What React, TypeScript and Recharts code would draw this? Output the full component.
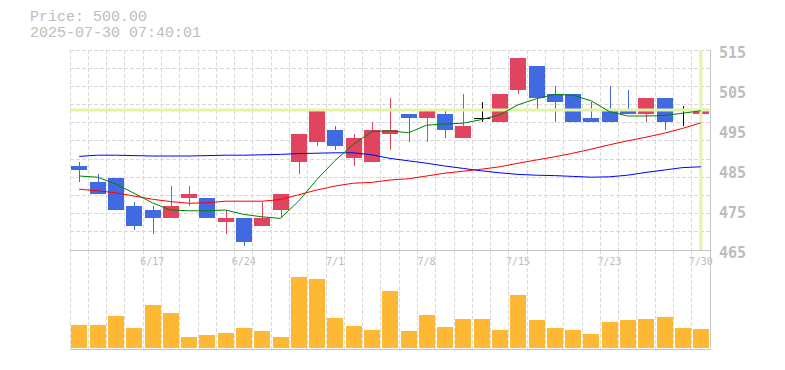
import React from 'react';
import {
  ComposedChart,
  Bar,
  Line,
  XAxis,
  YAxis,
  CartesianGrid,
  ReferenceLine,
} from 'recharts';

// trading days 2025-06-11 .. 2025-07-30
const dates = [
  '6/11', '6/12', '6/13', '6/16', '6/17', '6/18', '6/19', '6/20', '6/23', '6/24',
  '6/25', '6/26', '6/27', '6/30', '7/1', '7/2', '7/3', '7/4', '7/7', '7/8',
  '7/9', '7/10', '7/11', '7/14', '7/15', '7/16', '7/17', '7/18', '7/22', '7/23',
  '7/24', '7/25', '7/28', '7/29', '7/30',
];
const tickDates = ['6/17', '6/24', '7/1', '7/8', '7/15', '7/23', '7/30'];

const opens = [486, 482, 483, 476, 475, 473, 478, 478, 472, 473, 471, 475, 487, 492, 495, 488, 487, 494, 499, 498, 499, 493, 498, 497, 505, 511, 504, 504, 498, 500, 500, 499, 503, 500, 499];
const highs = [487, 484, 483, 477, 476, 481, 481, 478, 475, 473, 477, 479, 494, 500, 496, 494, 497, 503, 499, 500, 500, 504, 502, 504, 513, 511, 506, 504, 502, 506, 505, 503, 503, 501, 500];
const lows = [482, 479, 475, 470, 469, 473, 476, 473, 469, 466, 471, 473, 484, 491, 490, 486, 487, 490, 492, 492, 493, 493, 497, 497, 504, 500, 497, 497, 497, 497, 499, 497, 495, 496, 496];
const closes = [485, 479, 475, 471, 473, 476, 479, 473, 473, 467, 473, 479, 494, 500, 491, 493, 495, 495, 498, 500, 495, 496, 498, 504, 513, 503, 502, 497, 497, 497, 499, 503, 497, 500, 500];

// volume, thousand shares
const volumes = [23, 23, 32, 20, 43, 35, 11, 13, 15, 20, 17, 11, 71, 69, 30, 22, 18, 57, 17, 33, 21, 29, 29, 18, 53, 28, 20, 18, 14, 26, 28, 29, 31, 20, 19];

// moving averages
const ma5 = [483.5, 483.2, 481.5, 479.2, 476.8, 475.0, 474.8, 474.8, 475.0, 473.9, 473.3, 472.9, 477.2, 482.6, 487.4, 491.4, 494.6, 494.8, 494.3, 496.2, 496.5, 496.7, 497.6, 498.8, 501.3, 502.8, 503.9, 503.7, 502.3, 499.6, 498.5, 498.5, 498.6, 499.2, 499.8];
const ma25 = [480.2, 479.8, 479.3, 478.5, 477.7, 477.1, 476.7, 476.8, 477.2, 477.2, 477.2, 477.6, 478.8, 480.0, 481.0, 481.7, 481.9, 482.5, 482.8, 483.5, 484.2, 484.7, 485.2, 485.8, 486.7, 487.5, 488.3, 489.2, 490.2, 491.3, 492.3, 493.2, 494.2, 495.4, 496.8];
const ma75 = [488.4, 488.7, 488.7, 488.6, 488.5, 488.5, 488.5, 488.6, 488.7, 488.7, 488.8, 488.9, 489.1, 489.2, 489.3, 489.3, 488.8, 487.9, 487.3, 486.7, 486.0, 485.4, 484.8, 484.3, 483.9, 483.7, 483.6, 483.4, 483.2, 483.3, 483.7, 484.4, 485.0, 485.6, 485.8];

const priceTicks = [465, 475, 485, 495, 505, 515];
const lastPrice = 500;

const UP = '#e0445f';
const DOWN = '#4169e1';
const GRID = '#d9d9d9';
const FRAME = '#c6c6c6';
const CROSS = '#e2f2a6';

const GRID_ROWS = 11;

const data = dates.map((date, i) => ({
  date,
  open: opens[i],
  high: highs[i],
  low: lows[i],
  close: closes[i],
  range: [lows[i], highs[i]],
  volume: volumes[i],
  ma5: ma5[i],
  ma25: ma25[i],
  ma75: ma75[i],
}));

const crisp = (v: number) => Math.floor(v) + 0.5;

// one grid column per trading day, 11 grid rows in the price panel
const colLines = ({ offset }: any) =>
  Array.from({ length: dates.length + 1 }, (_, i) => crisp(offset.left + (i * offset.width) / dates.length));
const rowLines = ({ offset }: any) =>
  Array.from({ length: GRID_ROWS + 1 }, (_, i) => crisp(offset.top + (i * offset.height) / GRID_ROWS));
const rightEdge = ({ offset }: any) => [crisp(offset.left + offset.width)];
const topBottom = ({ offset }: any) => [crisp(offset.top), crisp(offset.top + offset.height) - 1];

const Candle = (props: any) => {
  const { x, y, width, height, payload } = props;
  const { open, close, high, low } = payload;
  const span = high - low || 1;
  const toY = (v: number) => y + ((high - v) / span) * height;
  const left = Math.ceil(x);
  const cx = left + width / 2 + 0.5;
  if (open === close) {
    const oy = Math.round(toY(open)) + 0.5;
    return (
      <g>
        <line x1={cx} x2={cx} y1={y} y2={y + height} stroke="#000" strokeWidth={1} />
        <line x1={left} x2={left + width} y1={oy} y2={oy} stroke="#000" strokeWidth={1} />
      </g>
    );
  }
  const color = close > open ? UP : DOWN;
  const top = toY(Math.max(open, close));
  const bottom = toY(Math.min(open, close));
  return (
    <g>
      <line x1={cx} x2={cx} y1={y} y2={y + height} stroke={color} strokeWidth={1} />
      <rect x={left} y={top} width={width} height={bottom - top} fill={color} />
    </g>
  );
};

const VolumeBar = (props: any) => {
  const { x, y, width, height, fill } = props;
  return <rect x={Math.ceil(x)} y={y} width={width} height={height} fill={fill} />;
};

const PriceTick = (props: any) => {
  const { x, y, payload } = props;
  return (
    <text
      x={x + 1}
      y={y + 3}
      dy="0.36em"
      textAnchor="start"
      fill="#bdbdbd"
      fontSize={15}
      fontWeight="bold"
      fontFamily="'DejaVu Sans Mono', monospace"
    >
      {payload.value}
    </text>
  );
};

export default function App() {
  return (
    <div style={{ position: 'absolute', left: 0, top: 0, width: 785, height: 370, background: '#fff' }}>
      <div
        style={{
          position: 'absolute',
          left: 30,
          top: 10,
          fontFamily: "'Liberation Mono', monospace",
          fontSize: 15,
          lineHeight: '15.5px',
          color: '#bdbdbd',
          whiteSpace: 'pre',
        }}
      >
        <div>Price: {lastPrice.toFixed(2)}</div>
        <div>2025-07-30 07:40:01</div>
      </div>

      {/* price panel */}
      <div style={{ position: 'absolute', left: 0, top: 0 }}>
        <ComposedChart width={785} height={370} data={data} margin={{ top: 50, right: 15, bottom: 90, left: 70 }}>
          <XAxis
            xAxisId="cat"
            dataKey="date"
            ticks={tickDates}
            interval={0}
            axisLine={false}
            tickLine={false}
            height={30}
            tick={{ fill: '#bbbbbb', fontSize: 10, fontFamily: "'DejaVu Sans Mono', monospace" }}
          />
          <YAxis
            yAxisId="price"
            orientation="right"
            domain={[465, 515]}
            ticks={priceTicks}
            interval={0}
            allowDataOverflow
            axisLine={false}
            tickLine={false}
            width={60}
            tick={<PriceTick />}
          />
          <CartesianGrid
            xAxisId="cat"
            yAxisId="price"
            stroke={GRID}
            strokeDasharray="4 2"
            verticalCoordinatesGenerator={colLines}
            horizontalCoordinatesGenerator={rowLines}
          />
          <CartesianGrid
            xAxisId="cat"
            yAxisId="price"
            stroke={FRAME}
            horizontal={false}
            verticalCoordinatesGenerator={rightEdge}
          />
          <ReferenceLine xAxisId="cat" yAxisId="price" y={lastPrice} stroke={CROSS} strokeWidth={3} />
          <ReferenceLine xAxisId="cat" yAxisId="price" x={dates[dates.length - 1]} stroke={CROSS} strokeWidth={3} />
          <Line xAxisId="cat" yAxisId="price" dataKey="ma75" stroke="#0000ff" strokeWidth={1} dot={false} isAnimationActive={false} />
          <Line xAxisId="cat" yAxisId="price" dataKey="ma25" stroke="#ff0000" strokeWidth={1} dot={false} isAnimationActive={false} />
          <Line xAxisId="cat" yAxisId="price" dataKey="ma5" stroke="#008000" strokeWidth={1} dot={false} isAnimationActive={false} />
          <Bar xAxisId="cat" yAxisId="price" dataKey="range" barSize={16} shape={<Candle />} isAnimationActive={false} />
        </ComposedChart>
      </div>

      {/* volume panel */}
      <div style={{ position: 'absolute', left: 0, top: 0 }}>
        <ComposedChart width={785} height={370} data={data} margin={{ top: 250, right: 75, bottom: 20, left: 70 }}>
          <XAxis xAxisId="cat" dataKey="date" hide />
          <YAxis yAxisId="vol" type="number" domain={[-2, 98]} allowDataOverflow hide />
          <CartesianGrid
            xAxisId="cat"
            yAxisId="vol"
            horizontal={false}
            stroke={GRID}
            strokeDasharray="4 2"
            verticalCoordinatesGenerator={colLines}
          />
          <CartesianGrid
            xAxisId="cat"
            yAxisId="vol"
            stroke={FRAME}
            verticalCoordinatesGenerator={rightEdge}
            horizontalCoordinatesGenerator={topBottom}
          />
          <Bar
            xAxisId="cat"
            yAxisId="vol"
            dataKey="volume"
            barSize={16}
            fill="#ffb833"
            shape={<VolumeBar />}
            isAnimationActive={false}
          />
        </ComposedChart>
      </div>
    </div>
  );
}
